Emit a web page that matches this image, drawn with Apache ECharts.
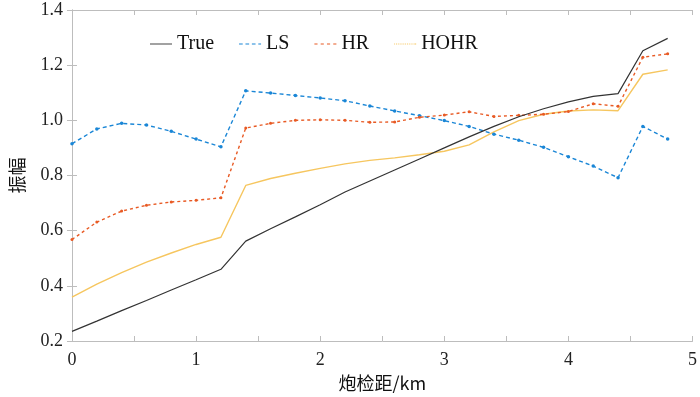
<!DOCTYPE html>
<html>
<head>
<meta charset="utf-8">
<script src="https://cdn.jsdelivr.net/npm/echarts@6/dist/echarts.min.js"></script>
<style>
  html, body { margin: 0; padding: 0; background: #fff; }
  #chart { width: 700px; height: 397px; }
</style>
</head>
<body>
<div id="chart"></div>
<script>
// offset in km
const offsets = [0, 0.2, 0.4, 0.6, 0.8, 1.0, 1.2, 1.4, 1.6, 1.8, 2.0, 2.2, 2.4, 2.6, 2.8, 3.0, 3.2, 3.4, 3.6, 3.8, 4.0, 4.2, 4.4, 4.6, 4.8]

const trueVals = [0.235, 0.272, 0.31, 0.347, 0.385, 0.422, 0.46, 0.562, 0.607, 0.65, 0.694, 0.74, 0.78, 0.82, 0.86, 0.90, 0.94, 0.978, 1.013, 1.042, 1.067, 1.087, 1.097, 1.252, 1.297]
const lsVals = [0.915, 0.969, 0.989, 0.983, 0.96, 0.932, 0.904, 1.107, 1.099, 1.09, 1.081, 1.071, 1.052, 1.034, 1.017, 0.999, 0.978, 0.95, 0.928, 0.902, 0.868, 0.834, 0.792, 0.978, 0.932]
const hrVals = [0.568, 0.631, 0.671, 0.692, 0.704, 0.71, 0.719, 0.972, 0.989, 1.0, 1.002, 1.0, 0.993, 0.994, 1.011, 1.019, 1.031, 1.014, 1.018, 1.022, 1.032, 1.06, 1.051, 1.229, 1.241]
const hohrVals = [0.359, 0.406, 0.448, 0.486, 0.519, 0.55, 0.576, 0.764, 0.789, 0.808, 0.826, 0.842, 0.855, 0.864, 0.875, 0.888, 0.911, 0.958, 0.999, 1.022, 1.034, 1.038, 1.035, 1.167, 1.183]

const seriesNames = ['True', 'LS', 'HR', 'HOHR']

const font = '"Liberation Serif", "Noto Sans CJK SC", serif'
const cjkFont = '"Noto Sans CJK SC", "Liberation Serif", serif'
const boxColor = '#bdbdbd'

// legend icons drawn as short line samples (24 x 1 units, stretched to itemWidth x itemHeight)
const solidIcon = 'path://M0,0H24V1H0Z'
const dashIcon = 'path://M0,0h4v1h-4z M7,0h4v1h-4z M14,0h4v1h-4z M21,0h3v1h-3z'
const shortDashIcon = 'path://M0,0h3v1h-3z M6,0h3v1h-3z M12,0h3v1h-3z M18,0h3v1h-3z'
const dotIcon = 'path://M0,0h1v1h-1z M2,0h1v1h-1z M4,0h1v1h-1z M6,0h1v1h-1z M8,0h1v1h-1z M10,0h1v1h-1z M12,0h1v1h-1z M14,0h1v1h-1z M16,0h1v1h-1z M18,0h1v1h-1z M20,0h1v1h-1z M22,0h2v1h-2z'
const legendIcons = [solidIcon, dashIcon, shortDashIcon, dotIcon]

function pairs(vals) {
  return offsets.map((x, i) => [x, vals[i]])
}

const chart = echarts.init(document.getElementById('chart'), null, { renderer: 'canvas' })

const option = {
  backgroundColor: '#fff',
  animation: false,
  grid: { left: 68, right: 7, top: 10, bottom: 48 },
  legend: {
    top: 29,
    left: 145,
    itemGap: 25,
    itemWidth: 22,
    itemHeight: 1.5,
    textStyle: { fontFamily: font, fontSize: 20, color: '#111' },
    data: seriesNames.map((n, i) => ({ name: n, icon: legendIcons[i] }))
  },
  xAxis: [
    {
      type: 'value',
      min: 0,
      max: 5,
      interval: 0.5,
      name: '炮检距/km',
      nameLocation: 'middle',
      nameGap: 33,
      nameTextStyle: { fontFamily: cjkFont, fontSize: 18, color: '#111' },
      axisLine: { lineStyle: { color: boxColor, width: 1 } },
      axisTick: { inside: true, length: 5, lineStyle: { color: boxColor } },
      axisLabel: {
        fontFamily: font, fontSize: 18, color: '#222', margin: 10,
        formatter: v => (Math.abs(v - Math.round(v)) < 1e-6 ? String(Math.round(v)) : '')
      },
      splitLine: { show: false }
    },
    {
      type: 'value',
      position: 'top',
      min: 0,
      max: 5,
      interval: 0.5,
      axisLine: { show: true, lineStyle: { color: boxColor, width: 1 } },
      axisTick: { inside: true, length: 5, lineStyle: { color: boxColor } },
      axisLabel: { show: false },
      splitLine: { show: false }
    }
  ],
  yAxis: [
    {
      type: 'value',
      min: 0.2,
      max: 1.4,
      interval: 0.2,
      name: '振幅',
      nameLocation: 'middle',
      nameGap: 46,
      nameRotate: 90,
      nameTextStyle: { fontFamily: cjkFont, fontSize: 18, color: '#111' },
      axisLine: { show: true, lineStyle: { color: boxColor, width: 1 } },
      axisTick: { show: true, inside: true, length: 5, lineStyle: { color: boxColor } },
      axisLabel: { fontFamily: font, fontSize: 18, color: '#222', margin: 9, formatter: v => v.toFixed(1) },
      splitLine: { show: false }
    },
    {
      type: 'value',
      position: 'right',
      min: 0.2,
      max: 1.4,
      interval: 0.2,
      axisLine: { show: true, lineStyle: { color: boxColor, width: 1 } },
      axisTick: { show: true, inside: true, length: 5, lineStyle: { color: boxColor } },
      axisLabel: { show: false },
      splitLine: { show: false }
    }
  ],
  series: [
    {
      name: 'True',
      type: 'line',
      data: pairs(trueVals),
      symbol: 'none',
      color: '#333333',
      lineStyle: { color: '#333333', width: 1.2 },
      z: 5
    },
    {
      name: 'LS',
      type: 'line',
      data: pairs(lsVals),
      symbol: 'circle',
      symbolSize: 3.5,
      color: '#1a86d6',
      itemStyle: { color: '#1a86d6' },
      lineStyle: { color: '#1a86d6', width: 1.4, type: [4, 3] },
      z: 4
    },
    {
      name: 'HR',
      type: 'line',
      data: pairs(hrVals),
      symbol: 'circle',
      symbolSize: 3,
      color: '#e85a24',
      itemStyle: { color: '#e85a24' },
      lineStyle: { color: '#e85a24', width: 1.4, type: [3, 3] },
      z: 4
    },
    {
      name: 'HOHR',
      type: 'line',
      data: pairs(hohrVals),
      symbol: 'none',
      color: '#f6c65f',
      lineStyle: { color: '#f6c65f', width: 1.4 },
      z: 3
    }
  ]
}

chart.setOption(option)
</script>
</body>
</html>
